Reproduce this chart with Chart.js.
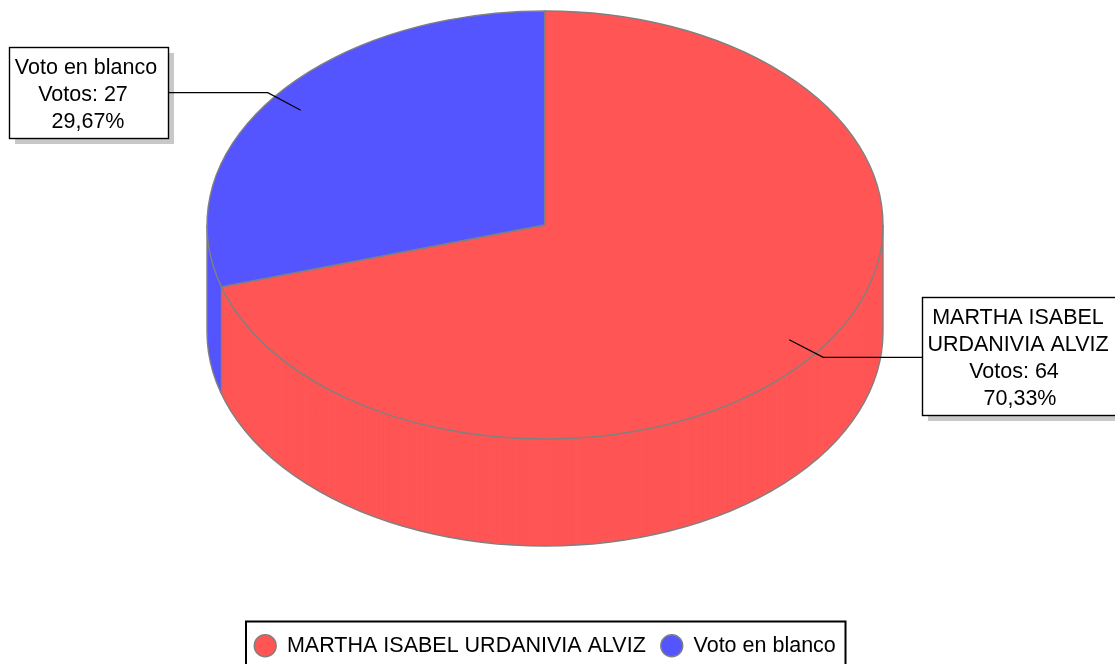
<!DOCTYPE html>
<html>
<head>
<meta charset="utf-8">
<style>html,body{margin:0;padding:0;background:#fff;overflow:hidden}canvas{display:block}</style>
<script src="https://cdn.jsdelivr.net/npm/chart.js@4"></script>
</head>
<body>
<canvas id="c" width="1115" height="664"></canvas>
<script>
const categories = ["MARTHA ISABEL URDANIVIA ALVIZ", "Voto en blanco"];
const votes = [64, 27];
const percentLabels = ["70,33%", "29,67%"];
const sliceColors = ["#FF5555", "#5555FF"];
const nameLines = [["MARTHA ISABEL", "URDANIVIA ALVIZ"], ["Voto en blanco"]];

const EDGE = "#808080", SHADOW = "#C8C8C8";
const FONT = "Liberation Sans, Arial, sans-serif", FONT_SIZE = 21.5;
const DEPTH = 107;
// callout boxes: frame, text centre per line, first baseline
const callouts = [
  {box:[922,297,1125,415], cx:[1018,1018,1014,1020], base:324, elbow:[34,17.5], edgeX:922},
  {box:[9,47,168,138], cx:[86,83,88], base:74, elbow:[-33,-17.5], edgeX:168}
];

const pie3d = {
  id: "pie3d",
  afterLayout(chart) {
    const l = chart.legend, h = l.bottom - l.top;
    l.top = 620; l.bottom = l.top + h;
  },
  beforeDatasetsDraw(chart) {
    const ctx = chart.ctx, a = chart.chartArea, arcs = chart.getDatasetMeta(0).data;
    const sx = a.width / a.height, cx = arcs[0].x;
    ctx.save();
    ctx.translate(cx, 0); ctx.scale(sx, 1); ctx.translate(-cx, 0);
    for (let d = DEPTH; d >= 1; d--) {
      ctx.save(); ctx.translate(0, d);
      arcs.forEach(e => e.draw(ctx));
      ctx.restore();
    }
  },
  afterDatasetsDraw(chart) {
    const ctx = chart.ctx, a = chart.chartArea, arcs = chart.getDatasetMeta(0).data;
    ctx.restore();
    const sx = a.width / a.height, e0 = arcs[0], cx = e0.x, cy = e0.y, R = e0.outerRadius;
    const px = t => cx + Math.cos(t) * R * sx, py = t => cy + Math.sin(t) * R;
    ctx.save();
    ctx.strokeStyle = EDGE; ctx.lineWidth = 1.4;
    // wall outline: front half of the lower rim, side lines, slice seam
    ctx.beginPath();
    ctx.moveTo(px(0), py(0));
    ctx.ellipse(cx, cy + DEPTH, R * sx, R, 0, 0, Math.PI);
    ctx.lineTo(px(Math.PI), py(Math.PI));
    ctx.stroke();
    const seam = arcs[0].endAngle;
    ctx.beginPath();
    ctx.moveTo(px(seam), py(seam));
    ctx.lineTo(px(seam), py(seam) + DEPTH);
    ctx.stroke();
    // top face
    arcs.forEach(e => {
      ctx.beginPath();
      ctx.moveTo(cx, cy);
      ctx.ellipse(cx, cy, R * sx, R, 0, e.startAngle, e.endAngle);
      ctx.closePath();
      ctx.stroke();
    });
    ctx.restore();
  },
  afterDraw(chart) {
    const ctx = chart.ctx, a = chart.chartArea, arcs = chart.getDatasetMeta(0).data;
    const sx = a.width / a.height;
    ctx.save();
    callouts.forEach((c, i) => {
      const e = arcs[i], mid = (e.startAngle + e.endAngle) / 2;
      const ax = e.x + Math.cos(mid) * e.outerRadius * 0.9 * sx;
      const ay = e.y + Math.sin(mid) * e.outerRadius * 0.9;
      const [x0, y0, x1, y1] = c.box;
      ctx.fillStyle = SHADOW;
      ctx.fillRect(x0 + 6, y0 + 6, x1 - x0, y1 - y0);
      ctx.strokeStyle = "#000"; ctx.lineWidth = 1.2;
      ctx.beginPath();
      ctx.moveTo(ax, ay);
      ctx.lineTo(ax + c.elbow[0], ay + c.elbow[1]);
      ctx.lineTo(c.edgeX, ay + c.elbow[1]);
      ctx.stroke();
      ctx.fillStyle = "#fff";
      ctx.fillRect(x0, y0, x1 - x0, y1 - y0);
      ctx.lineWidth = 1.4;
      ctx.strokeRect(x0 + .5, y0 + .5, x1 - x0, y1 - y0);
      const lines = nameLines[i].concat(["Votos: " + votes[i], percentLabels[i]]);
      ctx.fillStyle = "#000"; ctx.font = FONT_SIZE + "px " + FONT;
      ctx.textAlign = "center"; ctx.textBaseline = "alphabetic";
      lines.forEach((t, j) => ctx.fillText(t, c.cx[j], c.base + j * 27));
    });
    // legend frame
    ctx.strokeStyle = "#000"; ctx.lineWidth = 2;
    ctx.strokeRect(246, 621.5, 599.5, 60);
    ctx.restore();
  }
};

new Chart(document.getElementById("c"), {
  type: "pie",
  plugins: [pie3d],
  data: {
    labels: categories,
    datasets: [{ data: votes, backgroundColor: sliceColors, borderWidth: 0, clip: false }]
  },
  options: {
    responsive: false,
    animation: false,
    layout: { padding: { left: 207, right: 232, top: 11, bottom: 178.5 } },
    plugins: {
      tooltip: { enabled: false },
      legend: {
        position: "bottom",
        labels: {
          usePointStyle: true,
          pointStyle: "circle",
          pointStyleWidth: 22,
          boxHeight: 15.6,
          padding: 15,
          color: "#000",
          font: { family: FONT, size: FONT_SIZE },
          generateLabels: chart => categories.map((t, i) => ({
            text: t, fillStyle: sliceColors[i], strokeStyle: EDGE, lineWidth: 1.4,
            pointStyle: "circle", index: i, hidden: false
          }))
        }
      }
    }
  }
});
</script>
</body>
</html>
